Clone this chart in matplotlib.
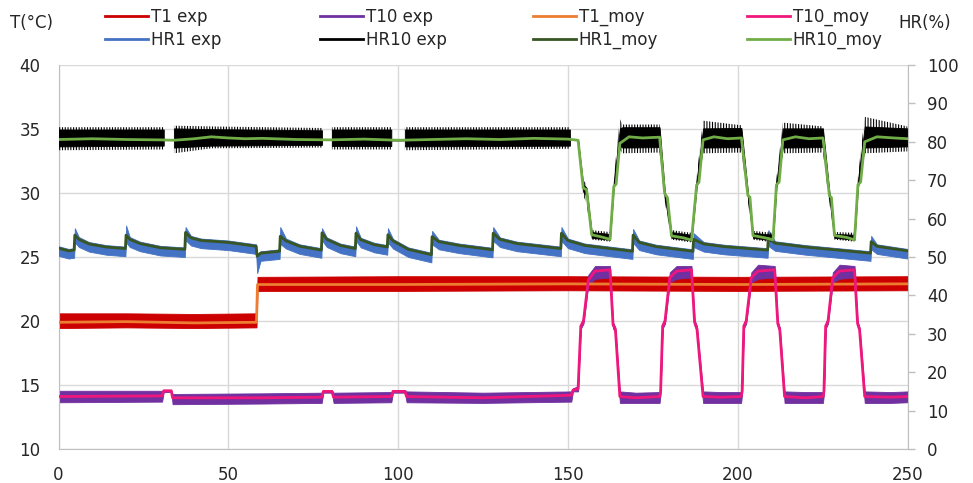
import numpy as np
import matplotlib.pyplot as plt
from matplotlib.lines import Line2D

# T1 (°C) : mesure (bande min/max) et moyenne
t_t1 = [0, 20, 40, 58.3, 58.6, 100, 150, 200, 250]
t1_moy = [19.9, 19.95, 19.85, 19.9, 22.85, 22.85, 22.9, 22.85, 22.9]
t1_lo = [19.45, 19.5, 19.45, 19.5, 22.35, 22.35, 22.4, 22.35, 22.4]
t1_hi = [20.6, 20.6, 20.55, 20.6, 23.45, 23.5, 23.5, 23.45, 23.5]

# T10 (°C)
t_t10 = [0, 30.5, 31, 33.2, 33.6, 60, 77.5, 78, 80.5, 81,
         98, 98.5, 102, 102.5, 125, 151, 151.5, 153,
         153.8, 154.6, 156, 158, 162.4, 163.3, 164, 165.3,
         170, 177, 177.3, 177.9, 178.6, 180, 182, 186.4, 187.3, 188, 189.8,
         195, 201, 201.3, 201.8, 202.5, 204, 206, 210.9, 211.8, 212.4, 213.8,
         220, 225.1, 225.4, 225.9, 226.6, 228, 230, 234.4, 235.3, 235.9, 237.4,
         245, 250]
t10_moy = [14.1, 14.15, 14.55, 14.55, 14.0, 14.0, 14.05, 14.5, 14.5, 14.05,
           14.1, 14.5, 14.5, 14.1, 14.0, 14.2, 14.6, 14.7,
           19.6, 20.0, 23.2, 23.9, 24.0, 19.7, 19.3, 14.1,
           14.0, 14.1, 14.5, 19.6, 20.0, 23.4, 23.9, 24.0, 19.9, 19.4, 14.1,
           14.05, 14.1, 14.5, 19.6, 20.0, 23.4, 23.9, 24.0, 19.8, 19.3, 14.1,
           14.0, 14.1, 14.5, 19.6, 20.0, 23.4, 23.9, 24.0, 19.8, 19.3, 14.1,
           14.05, 14.1]
t10_lo = [13.65, 13.7, 14.45, 14.45, 13.5, 13.55, 13.6, 14.4, 14.4, 13.6,
          13.65, 14.4, 14.4, 13.65, 13.6, 13.7, 14.5, 14.5,
          19.4, 19.8, 22.8, 23.3, 23.4, 19.4, 19.1, 13.6,
          13.6, 13.6, 14.3, 19.4, 19.8, 23.0, 23.3, 23.4, 19.6, 19.2, 13.6,
          13.6, 13.6, 14.3, 19.4, 19.8, 23.0, 23.3, 23.4, 19.6, 19.1, 13.6,
          13.6, 13.6, 14.3, 19.4, 19.8, 23.0, 23.3, 23.4, 19.6, 19.1, 13.6,
          13.6, 13.65]
t10_hi = [14.55, 14.55, 14.6, 14.6, 14.3, 14.35, 14.4, 14.6, 14.6, 14.4,
          14.45, 14.6, 14.6, 14.5, 14.4, 14.5, 14.75, 14.9,
          19.8, 20.3, 23.6, 24.3, 24.3, 19.9, 19.5, 14.5,
          14.4, 14.45, 14.7, 19.8, 20.3, 23.8, 24.3, 24.3, 20.1, 19.6, 14.5,
          14.45, 14.45, 14.7, 19.8, 20.3, 23.8, 24.4, 24.3, 20.0, 19.5, 14.5,
          14.45, 14.45, 14.7, 19.8, 20.3, 23.8, 24.4, 24.3, 20.0, 19.5, 14.5,
          14.45, 14.5]

# HR1 (%)
t_hr1 = [0, 3, 4.6, 4.8, 6, 9, 14, 19.7, 19.9, 21, 24, 30, 37.2, 37.4, 39, 42, 50,
         58.2, 58.5, 59.5, 65.1, 65.3, 67, 71, 77.4, 77.6, 79, 83, 87.4, 87.6, 89, 93,
         96.8, 97, 98.5, 103, 109.8, 110, 112, 118, 127.8, 128, 130, 135,
         147.9, 148.1, 150, 155, 169, 169.2, 171, 176, 186.8, 187, 190, 196,
         208.8, 209, 211, 220, 239.1, 239.3, 241, 250]
hr1_moy = [52.3, 51.6, 51.8, 55.7, 54.6, 53.4, 52.6, 52.2, 55.7, 54.6, 53.5, 52.4,
           52.0, 56.4, 55.0, 54.3, 53.8, 52.8, 50.2, 51.0, 51.5, 55.4, 54.2, 52.8,
           51.8, 56.3, 54.6, 53.0, 52.2, 56.2, 54.5, 53.2, 52.6, 55.8, 54.2, 52.0,
           50.6, 55.3, 54.0, 53.0, 51.9, 56.2, 54.6, 53.5, 52.2, 56.2, 54.3, 53.0,
           51.5, 55.7, 53.8, 52.7, 51.5, 54.6, 53.4, 52.7, 51.8, 54.9, 53.6, 52.6,
           51.0, 54.0, 52.8, 51.6]
hr1_lo = [50.3, 49.6, 49.8, 53.8, 52.6, 51.4, 50.6, 50.2, 53.8, 52.6, 51.5, 50.4,
          50.0, 54.4, 53.0, 52.3, 51.8, 50.8, 45.8, 49.0, 49.5, 53.4, 52.2, 50.8,
          49.8, 54.3, 52.6, 51.0, 50.2, 54.2, 52.5, 51.2, 50.6, 53.8, 52.2, 50.0,
          48.6, 53.3, 52.0, 51.0, 49.9, 54.2, 52.6, 51.5, 50.2, 54.2, 52.3, 51.0,
          49.5, 53.7, 51.8, 50.7, 49.5, 52.6, 51.4, 50.7, 49.8, 52.9, 51.6, 50.6,
          49.0, 52.0, 50.8, 49.6]
hr1_hi = [52.8, 52.1, 52.3, 57.5, 55.2, 53.9, 53.1, 52.7, 58.2, 55.2, 54.0, 52.9,
          52.5, 57.8, 55.5, 54.8, 54.3, 53.3, 50.7, 51.5, 52.0, 57.8, 54.8, 53.3,
          52.3, 57.5, 55.1, 53.5, 52.7, 58.0, 55.0, 53.7, 53.1, 57.5, 54.7, 52.5,
          51.1, 56.8, 54.5, 53.5, 52.4, 57.8, 55.1, 54.0, 52.7, 57.8, 54.8, 53.5,
          52.0, 57.3, 54.3, 53.2, 52.0, 56.2, 53.9, 53.2, 52.3, 57.0, 54.1, 53.1,
          51.5, 55.5, 53.3, 52.1]

# HR10 (%) moyenne
t_hr10 = [0, 10, 20, 30, 34, 40, 45, 50, 55, 60, 70, 80, 90, 100, 110, 120, 130, 140, 150, 153,
          154.5, 155.5, 157, 160, 162.4, 163.5, 164.2, 165.3, 168, 172, 177,
          178.5, 179.3, 180.5, 184, 186.4, 187.9, 188.6, 189.8, 193, 197, 201.1,
          203, 203.6, 204.5, 208, 210.4, 211.4, 212.2, 213.3, 217, 221, 225.1,
          227, 227.6, 228.5, 232, 234.4, 235.4, 236.2, 237.4, 241, 246, 250]
hr10_moy = [80.6, 80.8, 80.6, 80.5, 80.4, 80.8, 81.3, 81.0, 80.8, 80.9,
            80.6, 80.5, 80.7, 80.4, 80.6, 80.8, 80.6, 80.9, 80.7, 80.4,
            68.0, 67.5, 55.8, 55.2, 54.6, 68.3, 69.0, 79.6, 81.3, 81.0, 81.2,
            66.5, 65.5, 55.5, 55.0, 54.4, 68.7, 69.5, 80.5, 81.3, 80.8, 81.0,
            66.0, 65.6, 55.6, 55.0, 54.5, 68.8, 69.5, 80.5, 81.3, 80.8, 81.0,
            66.0, 65.5, 55.6, 55.1, 54.5, 68.8, 69.5, 80.0, 81.3, 81.0, 80.8]

# HR10 (%) mesure : enveloppe des pics et coeur dense du signal bruité
t_hr10e = [0, 31, 31, 34, 34, 45, 77.6, 77.6, 80.5, 80.5,
           98, 98, 102, 102, 150.6, 150.6, 153,
           154.5, 155.5, 157, 162.4, 163.5, 165.3, 166, 177,
           178.5, 180.5, 186.4, 187.9, 189.8, 201.1,
           203, 204.5, 210.4, 211.4, 213.3, 225.1,
           227, 228.5, 234.4, 235.4, 237.4, 250]
hr10e_lo = [77.8, 78.0, 80.5, 80.5, 77.0, 78.3, 78.5, 80.5, 80.5, 78.0,
            78.0, 80.4, 80.4, 77.8, 78.2, 80.7, 80.4,
            66.0, 64.0, 54.5, 54.0, 67.0, 78.0, 77.0, 77.2,
            64.5, 54.5, 53.8, 67.0, 77.0, 77.2,
            64.5, 54.5, 53.8, 67.0, 77.0, 77.2,
            64.0, 54.5, 54.0, 67.0, 77.0, 77.5]
hr10e_hi = [83.8, 83.8, 80.5, 80.5, 84.2, 84.0, 83.6, 80.5, 80.5, 83.8,
            83.8, 80.4, 80.4, 83.8, 83.8, 80.7, 80.4,
            70.0, 69.0, 57.0, 56.5, 70.5, 86.0, 84.5, 84.5,
            68.5, 57.0, 56.3, 71.0, 85.5, 84.3,
            68.0, 56.8, 56.3, 70.5, 85.0, 84.0,
            68.0, 56.5, 56.3, 71.0, 86.5, 84.0]
hr10c_lo = [78.8, 79.0, 80.5, 80.5, 78.5, 79.0, 79.2, 80.5, 80.5, 78.9,
            78.9, 80.4, 80.4, 78.8, 79.0, 80.7, 80.4,
            67.0, 66.0, 55.0, 54.5, 68.0, 79.0, 78.5, 78.6,
            65.5, 55.0, 54.3, 68.0, 78.5, 78.6,
            65.5, 55.0, 54.3, 68.0, 78.5, 78.6,
            65.0, 55.0, 54.5, 68.0, 78.5, 78.8]
hr10c_hi = [83.2, 83.2, 80.5, 80.5, 83.5, 83.3, 83.0, 80.5, 80.5, 83.2,
            83.2, 80.4, 80.4, 83.2, 83.2, 80.7, 80.4,
            69.0, 68.0, 56.5, 56.0, 69.5, 83.5, 83.8, 83.8,
            67.5, 56.5, 55.8, 70.0, 83.5, 83.6,
            67.0, 56.3, 55.8, 69.5, 83.5, 83.5,
            67.0, 56.0, 55.8, 70.0, 84.0, 83.5]

labels = ['T1 exp', 'HR1 exp', 'T10 exp', 'HR10 exp',
          'T1_moy', 'HR1_moy', 'T10_moy', 'HR10_moy']
couleurs = ['#cc0000', '#4472c4', '#7030a0', '#000000',
            '#ed7d31', '#375623', '#f0177c', '#70ad47']

plt.rcParams['hatch.linewidth'] = 0.8

fig = plt.figure(figsize=(9.73, 4.83), dpi=100)
ax = fig.add_axes([58.5 / 973, 34 / 483, 849 / 973, 384 / 483])
ax2 = ax.twinx()

# temperatures (axe gauche)
ax.fill_between(t_t1, t1_lo, t1_hi, color=couleurs[0], lw=0.6, zorder=2)
ax.fill_between(t_t10, t10_lo, t10_hi, color=couleurs[2], lw=0.6, zorder=2)
ax.plot(t_t1, t1_moy, color=couleurs[4], lw=2, zorder=3)
ax.plot(t_t10, t10_moy, color=couleurs[6], lw=2, zorder=3)

# humidite (axe droit)
ax2.fill_between(t_hr1, hr1_lo, hr1_hi, color=couleurs[1], lw=0.6, zorder=2)
ax2.fill_between(t_hr10e, hr10e_lo, hr10e_hi, facecolor='none', edgecolor=couleurs[3],
                 hatch='||||||', lw=0, zorder=2)
ax2.fill_between(t_hr10e, hr10c_lo, hr10c_hi, color=couleurs[3], lw=0.6, zorder=2)
ax2.plot(t_hr1, hr1_moy, color=couleurs[5], lw=2, zorder=3)
ax2.plot(t_hr10, hr10_moy, color=couleurs[7], lw=2, zorder=3)

gris = '#bfbfbf'
txt = '#262626'
ax.set_xlim(0, 250)
ax.set_ylim(10, 40)
ax2.set_ylim(0, 100)
ax.set_xticks(np.arange(0, 251, 50))
ax.set_yticks(np.arange(10, 41, 5))
ax2.set_yticks(np.arange(0, 101, 10))
ax.grid(True, color='#d9d9d9', lw=1)
ax.set_axisbelow(True)

for s in ['top', 'right']:
    ax.spines[s].set_visible(False)
for s in ['top', 'left', 'bottom']:
    ax2.spines[s].set_visible(False)
for s in ['left', 'bottom']:
    ax.spines[s].set_color(gris)
ax2.spines['right'].set_color(gris)

ax.tick_params(axis='y', length=0, pad=13, labelsize=12, labelcolor=txt)
ax.tick_params(axis='x', length=0, pad=12, labelsize=12, labelcolor=txt)
ax2.tick_params(axis='y', length=5, width=1, color=gris, pad=9, labelsize=12, labelcolor=txt)

fig.text(10 / 973, 1 - 23 / 483, 'T(°C)', fontsize=12, color=txt, va='center', ha='left')
fig.text(898 / 973, 1 - 23 / 483, 'HR(%)', fontsize=12, color=txt, va='center', ha='left')

# legende : 4 colonnes de 2 lignes
x_cols = [105, 320, 533, 747]
for i, x in enumerate(x_cols):
    hs = [Line2D([], [], color=couleurs[2 * i + k], lw=2) for k in range(2)]
    fig.legend(hs, labels[2 * i:2 * i + 2], loc='center left',
               bbox_to_anchor=(x / 973, 1 - 28.5 / 483), frameon=False,
               fontsize=12, handlelength=2.6, handletextpad=0.15,
               labelspacing=0.3, borderpad=0, borderaxespad=0, labelcolor=txt)

fig.savefig('out.png', dpi=100)
